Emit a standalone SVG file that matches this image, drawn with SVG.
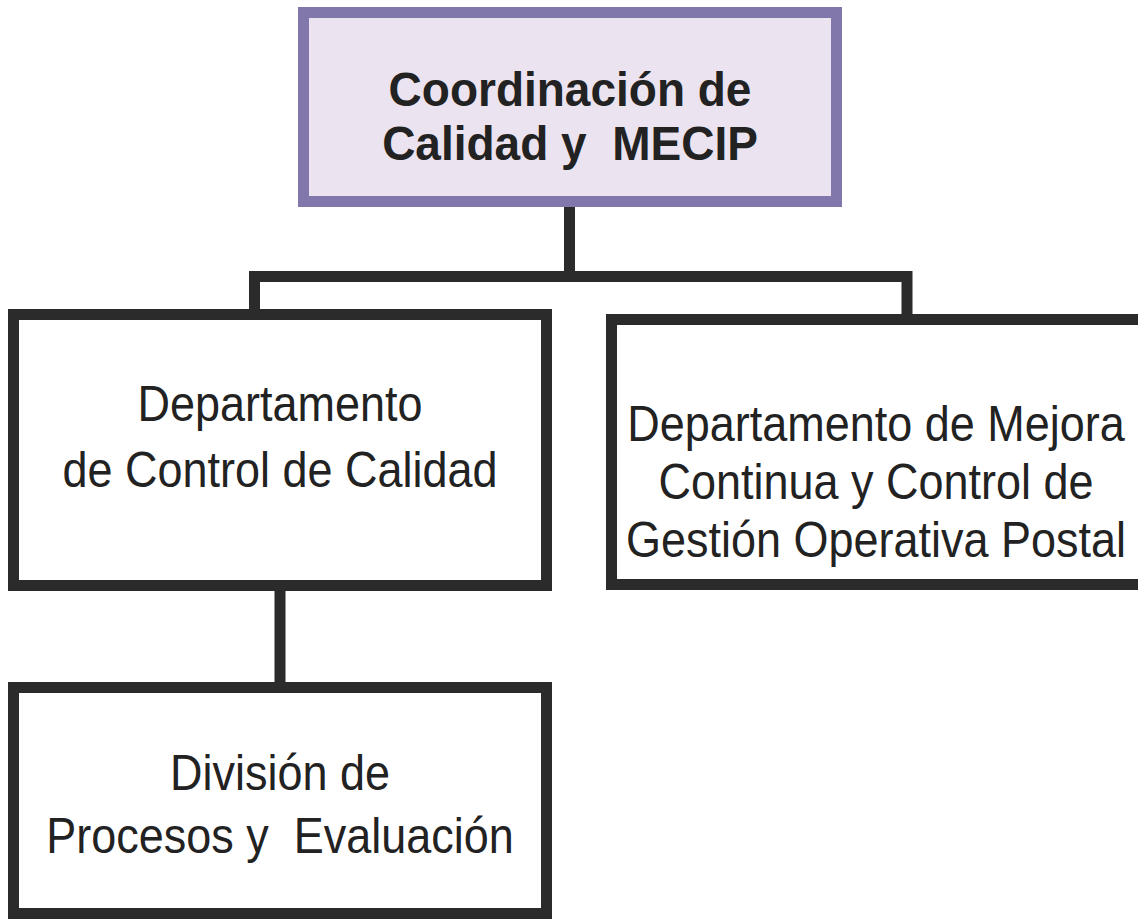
<svg xmlns="http://www.w3.org/2000/svg" width="1138" height="922" viewBox="0 0 1138 922">
<style>
.box{fill:#ffffff;stroke:#2b2b2b;stroke-width:11}
.top{fill:#ebe3ef;stroke:#8177ab;stroke-width:11}
.ln{fill:none;stroke:#2b2b2b;stroke-width:11;stroke-linecap:square}
.t{font-family:"Liberation Sans",Arial,sans-serif;font-size:45px;fill:#222;text-anchor:middle;white-space:pre}
.tb{font-family:"Liberation Sans",Arial,sans-serif;font-size:46px;font-weight:bold;fill:#222;text-anchor:middle;white-space:pre}
</style>
<rect width="1138" height="922" fill="#ffffff"/>
<g id="connectors">
<path class="ln" d="M569.5 207 V276.5 M254.5 309 V276.5 H907 V314"/>
<path class="ln" d="M280 591 V682"/>
</g>
<g id="coord">
<rect class="top" x="303.5" y="12.5" width="533" height="189"/>
<text class="tb" transform="translate(570 106) scale(1 1.03)">Coordinación de</text>
<text class="tb" transform="translate(570 160) scale(1 1.03)">Calidad y  MECIP</text>
</g>
<g id="dept-control">
<rect class="box" x="13.5" y="314.5" width="533" height="271"/>
<text class="t" transform="translate(280 421) scale(1 1.12)">Departamento</text>
<text class="t" transform="translate(280 487) scale(1 1.12)">de Control de Calidad</text>
</g>
<g id="dept-mejora">
<rect class="box" x="611.5" y="319.5" width="540" height="265"/>
<text class="t" transform="translate(876 441) scale(1 1.12)">Departamento de Mejora</text>
<text class="t" transform="translate(876 499) scale(1 1.12)">Continua y Control de</text>
<text class="t" transform="translate(876 557) scale(1 1.12)">Gestión Operativa Postal</text>
</g>
<g id="division">
<rect class="box" x="13.5" y="687.5" width="533" height="226"/>
<text class="t" transform="translate(280 790) scale(1 1.12)">División de</text>
<text class="t" transform="translate(280 853) scale(1 1.12)">Procesos y  Evaluación</text>
</g>
</svg>
